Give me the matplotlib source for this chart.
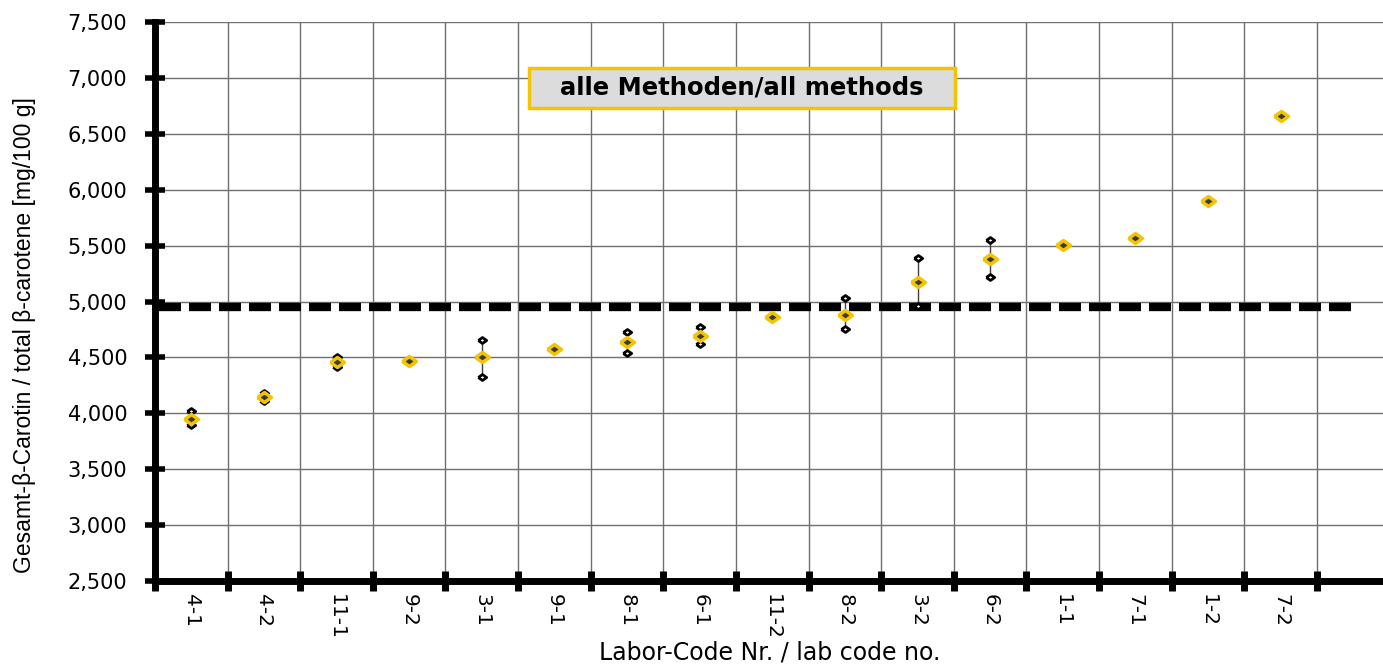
import matplotlib.pyplot as plt
import numpy as np
from matplotlib.ticker import FuncFormatter
from matplotlib.patches import Rectangle

labs = ["4-1", "4-2", "11-1", "9-2", "3-1", "9-1", "8-1", "6-1",
        "11-2", "8-2", "3-2", "6-2", "1-1", "7-1", "1-2", "7-2"]
mean_val = [3950, 4146, 4459, 4468, 4500, 4575, 4638, 4691,
            4861, 4879, 5174, 5383, 5505, 5568, 5902, 6657]
high_val = [4021, 4182, 4504, 4470, 4656, 4577, 4727, 4772,
            4863, 5031, 5389, 5550, 5507, 5570, 5904, 6659]
low_val = [3895, 4110, 4414, 4466, 4325, 4573, 4539, 4620,
           4859, 4754, 4960, 5219, 5503, 5566, 5900, 6655]
ref_val = 4955

plt.rcParams['font.family'] = ['DejaVu Sans']

W, H = 1383, 664
fig = plt.figure(figsize=(W / 100, H / 100), dpi=100)
ax = fig.add_axes([155 / W, 1 - 581 / H, 1 - 155 / W, (581 - 22) / H])

x = np.arange(len(labs))
wide_d = [(-1.4, 0), (0, 1), (1.4, 0), (0, -1), (-1.4, 0)]

# mittelwert-linie
ax.plot([-0.45, 16.05], [ref_val, ref_val], color="black", lw=6,
        dashes=(2.64, 0.96), dash_capstyle="butt", zorder=3)

for i in range(len(labs)):
    ax.plot([x[i], x[i]], [low_val[i], high_val[i]], color="#404040", lw=1, zorder=4)
ax.plot(x, high_val, ls="none", marker=wide_d, ms=6, mfc="white", mec="black", mew=2, zorder=5)
ax.plot(x, low_val, ls="none", marker=wide_d, ms=6, mfc="white", mec="black", mew=2, zorder=5)
ax.plot(x, mean_val, ls="none", marker=wide_d, ms=10, mfc="#3a3a3a", mec="#f5c400", mew=2.5, zorder=6)

ax.set_xlim(-0.5, 16.41)
ax.set_ylim(2500, 7500)
ax.set_yticks(np.arange(2500, 7501, 500))
ax.yaxis.set_major_formatter(FuncFormatter(lambda v, p: "{:,.0f}".format(v)))
ax.set_xticks(np.arange(-0.5, 16.5, 1))
ax.set_xticklabels([])
ax.set_xticks(x, minor=True)
ax.set_xticklabels(labs, minor=True, rotation=-90, fontsize=14.5)
ax.tick_params(axis="x", which="minor", length=0, pad=9)
ax.tick_params(axis="x", which="major", direction="inout", length=14, width=5)
ax.tick_params(axis="y", direction="inout", length=14, width=4, labelsize=15, pad=13)

ax.grid(True, which="major", color="#707070", lw=1)
ax.set_axisbelow(True)
for s in ["top", "right"]:
    ax.spines[s].set_visible(False)
ax.spines["left"].set_linewidth(5)
ax.spines["bottom"].set_linewidth(5)

fig.text(770 / W, 1 - 652 / H, "Labor-Code Nr. / lab code no.", fontsize=17,
         ha="center", va="center")
fig.text(25 / W, 1 - 335 / H, "Gesamt-β-Carotin / total β-carotene [mg/100 g]",
         fontsize=16.5, family=['Liberation Sans', 'DejaVu Sans'],
         rotation=90, ha="center", va="center")

ax.add_patch(Rectangle((4.65, 6731), 10.52 - 4.65, 7089 - 6731, fc="#dcdcdc",
                       ec="#f5c400", lw=2.5, zorder=7))
ax.text(7.585, 6910, "alle Methoden/all methods", fontsize=17.5, fontweight="bold",
        ha="center", va="center", zorder=8)

fig.savefig("out.png", dpi=100)
